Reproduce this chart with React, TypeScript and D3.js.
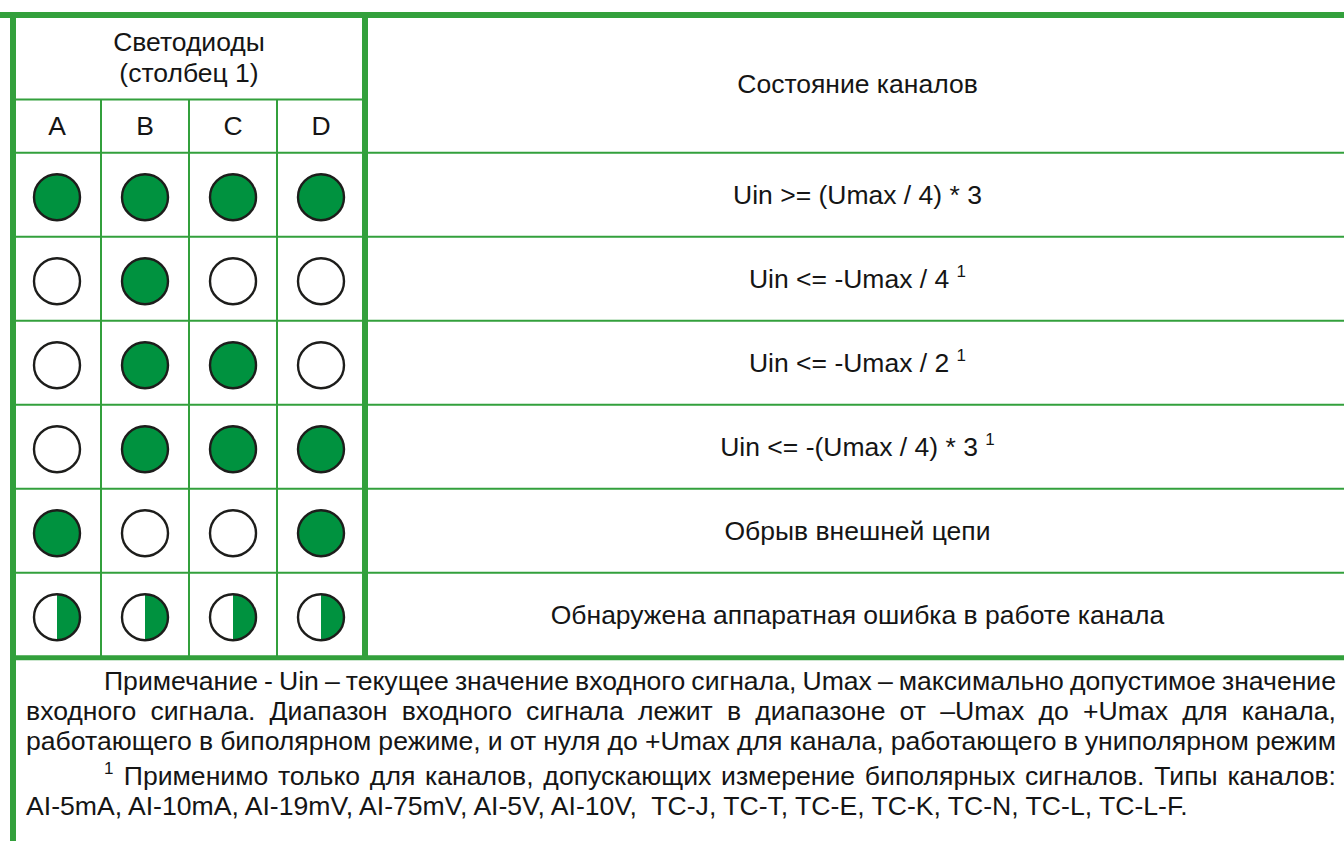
import React from "react";
import * as d3 from "d3";

const ledColumns = ["A", "B", "C", "D"];
const headerTitle = ["Светодиоды", "(столбец 1)"];
const stateTitle = "Состояние каналов";
// 1 = on, 0 = off, 2 = half (hardware error)
const ledStates: number[][] = [
  [1, 1, 1, 1],
  [0, 1, 0, 0],
  [0, 1, 1, 0],
  [0, 1, 1, 1],
  [1, 0, 0, 1],
  [2, 2, 2, 2],
];
const descriptions = [
  "Uin >= (Umax / 4) * 3",
  "Uin <= -Umax / 4",
  "Uin <= -Umax / 2",
  "Uin <= -(Umax / 4) * 3",
  "Обрыв внешней цепи",
  "Обнаружена аппаратная ошибка в работе канала",
];
const footnoteMarks = [false, true, true, true, false, false];
const noteLines = [
  "Примечание - Uin – текущее значение входного сигнала, Umax – максимально допустимое значение",
  "входного сигнала. Диапазон входного сигнала лежит в диапазоне от –Umax до +Umax для канала,",
  "работающего в биполярном режиме, и от нуля до +Umax для канала, работающего в униполярном режим",
  "Применимо только для каналов, допускающих измерение биполярных сигналов. Типы каналов:",
  "AI-5mA, AI-10mA, AI-19mV, AI-75mV, AI-5V, AI-10V,  TC-J, TC-T, TC-E, TC-K, TC-N, TC-L, TC-L-F.",
];

const W = 1344;
const H = 841;
const FONT = "'Liberation Sans', Arial, sans-serif";
const FS = 26.5;
const NFS = 26.6;
const SUP = 17;
const BORDER = "#33a03c";
const FILL = "#00923f";
const INK = "#151515";

let ctx: CanvasRenderingContext2D | null = null;
function measure(t: string, size = NFS) {
  if (!ctx) ctx = document.createElement("canvas").getContext("2d");
  ctx!.font = `${size}px 'Liberation Sans', Arial, sans-serif`;
  return ctx!.measureText(t).width;
}

function Justified({ text, x0, x1, y, sup }: { text: string; x0: number; x1: number; y: number; sup?: string }) {
  const words = text.split(" ");
  let start = x0;
  const els: React.ReactNode[] = [];
  if (sup) {
    els.push(
      <text key="sup" x={x0} y={y - 11} fontSize={SUP} fill={INK} fontFamily={FONT}>
        {sup}
      </text>
    );
    start = x0 + measure(sup, SUP) + measure(" ") * 1.4;
  }
  const widths = words.map((w) => measure(w));
  const total = d3.sum(widths);
  const gap = (x1 - start - total) / (words.length - 1);
  let x = start;
  words.forEach((w, i) => {
    els.push(
      <text key={i} x={x} y={y} fontSize={NFS} fill={INK} fontFamily={FONT}>
        {w}
      </text>
    );
    x += widths[i] + gap;
  });
  return <g>{els}</g>;
}

function Led({ cx, cy, r, state }: { cx: number; cy: number; r: number; state: number }) {
  const half = `M${cx},${cy - r} A${r},${r} 0 0 1 ${cx},${cy + r} Z`;
  return (
    <g>
      <circle cx={cx} cy={cy} r={r} fill={state === 1 ? FILL : "#fff"} />
      {state === 2 && <path d={half} fill={FILL} />}
      <circle cx={cx} cy={cy} r={r} fill="none" stroke="#1d1d1b" strokeWidth={2.4} />
    </g>
  );
}

export default function App() {
  const left = 13;
  const top = 15;
  const split = 365;
  const right = 1350;
  const headerMid = 99.5;
  const rowsTop = 152.7;
  const rowsBottom = 656.7;

  const x = d3.scaleBand<string>().domain(ledColumns).range([left, split]);
  const y = d3
    .scaleBand<number>()
    .domain(d3.range(ledStates.length))
    .range([rowsTop, rowsBottom]);
  const descX = (split + right) / 2;

  const noteY = [690, 720, 750, 785, 815];

  return (
    <svg
      width={W}
      height={H}
      style={{ position: "absolute", left: 0, top: 0, background: "#fff" }}
      fontFamily={FONT}
    >
      <rect x={0} y={0} width={W} height={H} fill="#fff" />
      {/* thin grid lines */}
      <line x1={left} x2={split} y1={headerMid} y2={headerMid} stroke={BORDER} strokeWidth={2} />
      {y.domain().map((i) => (
        <line key={"h" + i} x1={left} x2={right} y1={y(i)!} y2={y(i)!} stroke={BORDER} strokeWidth={2} />
      ))}
      {ledColumns.slice(1).map((c) => (
        <line key={"v" + c} x1={x(c)!} x2={x(c)!} y1={headerMid} y2={rowsBottom} stroke={BORDER} strokeWidth={2} />
      ))}
      {/* thick lines */}
      <line x1={0} x2={W} y1={top} y2={top} stroke={BORDER} strokeWidth={6} />
      <line x1={left} x2={left} y1={top - 3} y2={H} stroke={BORDER} strokeWidth={6} />
      <line x1={split} x2={split} y1={top} y2={rowsBottom} stroke={BORDER} strokeWidth={6} />
      <line x1={left} x2={W} y1={rowsBottom + 1} y2={rowsBottom + 1} stroke={BORDER} strokeWidth={5} />

      {/* headers */}
      <text x={(left + split) / 2} y={51} textAnchor="middle" fontSize={FS} fill={INK}>
        {headerTitle[0]}
      </text>
      <text x={(left + split) / 2} y={82} textAnchor="middle" fontSize={FS} fill={INK}>
        {headerTitle[1]}
      </text>
      {ledColumns.map((c) => (
        <text key={c} x={x(c)! + x.bandwidth() / 2} y={135} textAnchor="middle" fontSize={FS} fill={INK}>
          {c}
        </text>
      ))}
      <text x={descX} y={93} textAnchor="middle" fontSize={FS} fill={INK}>
        {stateTitle}
      </text>

      {/* rows */}
      {ledStates.map((row, i) => {
        const cy = y(i)! + y.bandwidth() / 2;
        return (
          <g key={"r" + i}>
            {row.map((s, j) => (
              <Led key={j} cx={x(ledColumns[j])! + x.bandwidth() / 2} cy={cy + 2.5} r={23} state={s} />
            ))}
            <text x={descX} y={cy + 9} textAnchor="middle" fontSize={FS} fill={INK}>
              <tspan>{descriptions[i] + (footnoteMarks[i] ? " " : "")}</tspan>
              {footnoteMarks[i] && (
                <tspan fontSize={SUP} dy={-11}>
                  1
                </tspan>
              )}
            </text>
          </g>
        );
      })}

      {/* note */}
      <Justified text={noteLines[0]} x0={104} x1={1336} y={noteY[0]} />
      <Justified text={noteLines[1]} x0={26} x1={1336} y={noteY[1]} />
      <Justified text={noteLines[2]} x0={26} x1={1336} y={noteY[2]} />
      <Justified text={noteLines[3]} x0={104} x1={1336} y={noteY[3]} sup="1" />
      <text x={26} y={noteY[4]} fontSize={NFS} fill={INK} style={{ whiteSpace: "pre" }}>
        {noteLines[4]}
      </text>
    </svg>
  );
}
